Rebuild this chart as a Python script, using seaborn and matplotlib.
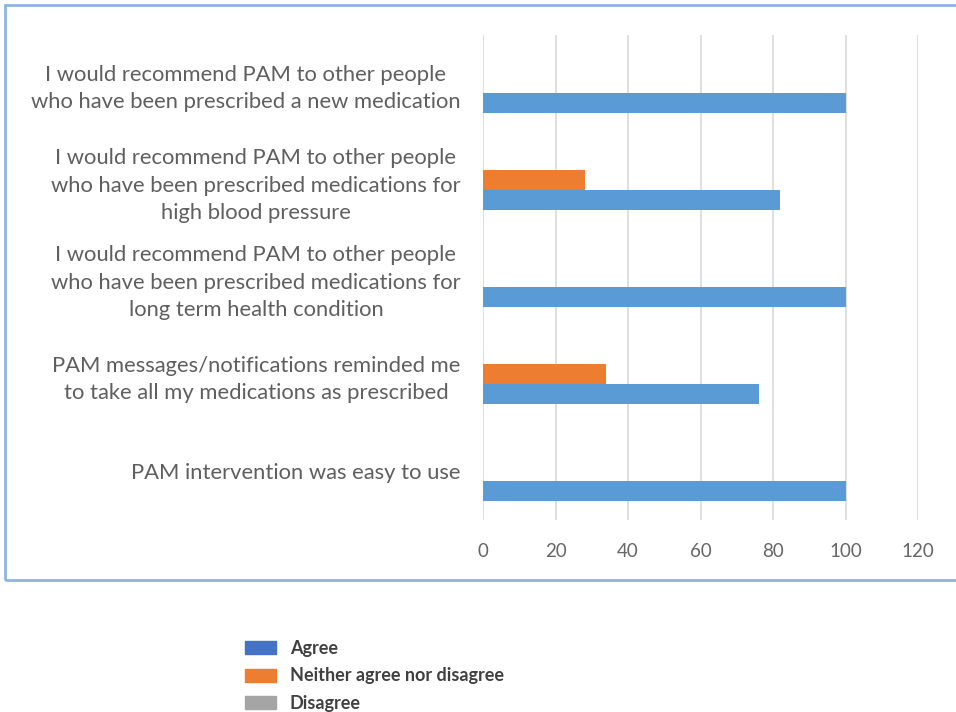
import matplotlib
matplotlib.use("Agg")
import matplotlib.pyplot as plt
import matplotlib.patches as mpatches
import seaborn as sns
import pandas as pd

categories = [
    "I would recommend PAM to other people\nwho have been prescribed a new medication",
    "I would recommend PAM to other people\nwho have been prescribed medications for\nhigh blood pressure",
    "I would recommend PAM to other people\nwho have been prescribed medications for\nlong term health condition",
    "PAM messages/notifications reminded me\nto take all my medications as prescribed",
    "PAM intervention was easy to use",
]
agree = [100, 82, 100, 76, 100]
neither = [0, 28, 0, 34, 0]
disagree = [0, 0, 0, 0, 0]
series_names = ["Agree", "Neither agree nor disagree", "Disagree"]
x_ticks = [0, 20, 40, 60, 80, 100, 120]

rows = []
for i, c in enumerate(categories):
    rows.append((c, series_names[2], disagree[i]))
    rows.append((c, series_names[1], neither[i]))
    rows.append((c, series_names[0], agree[i]))
df = pd.DataFrame(rows, columns=["category", "series", "value"])

sns.set_theme(style="white")
plt.rcParams["font.family"] = ["Lato", "DejaVu Sans"]

fig = plt.figure(figsize=(9.56, 7.12), dpi=100)
ax = fig.add_axes([483 / 956, 1 - 519.5 / 712, (918 - 483) / 956, (519.5 - 34.5) / 712])

bar_colors = {"Agree": "#5B9BD5", "Neither agree nor disagree": "#ED7D31", "Disagree": "#A5A5A5"}
sns.barplot(data=df, y="category", x="value", hue="series",
            hue_order=[series_names[2], series_names[1], series_names[0]],
            order=categories, palette=bar_colors, width=0.62, orient="h",
            ax=ax, legend=False, saturation=1, linewidth=0)

ax.set_xlim(0, 120)
ax.set_xticks(x_ticks)
ax.set_xlabel("")
ax.set_ylabel("")
ax.grid(axis="x", color="#D9D9D9", linewidth=1.2)
ax.set_axisbelow(True)
for s in ax.spines.values():
    s.set_visible(False)
ax.tick_params(axis="x", colors="#666666", labelsize=13.5, length=0, pad=17)
ax.tick_params(axis="y", length=0, pad=16)
for lbl in ax.get_xticklabels():
    lbl.set_color("#666666")
for lbl in ax.get_yticklabels():
    lbl.set_fontsize(15.8)
    lbl.set_color("#5F5F5F")
    lbl.set_multialignment("center")
    lbl.set_linespacing(1.45)

# outer chart border
fig.patches.append(mpatches.Rectangle((5 / 956, 1 - 580 / 712), 1.0, 575 / 712,
                                      transform=fig.transFigure, fill=False,
                                      edgecolor="#8DB4E2", linewidth=2, zorder=0))

handles = [
    mpatches.Patch(facecolor="#4472C4", edgecolor="#4472C4", label=series_names[0]),
    mpatches.Patch(facecolor="#ED7D31", edgecolor="#ED7D31", label=series_names[1]),
    mpatches.Patch(facecolor="#A5A5A5", edgecolor="#A5A5A5", label=series_names[2]),
]
leg = fig.legend(handles=handles, loc="upper left", bbox_to_anchor=(245 / 956, 1 - 640 / 712),
                 frameon=False, borderpad=0, borderaxespad=0,
                 handlelength=1.7, handleheight=0.72, handletextpad=0.78,
                 labelspacing=0.58, prop={"size": 13, "weight": "bold"})
for t in leg.get_texts():
    t.set_color("#404040")

fig.savefig("out.png", dpi=100)
